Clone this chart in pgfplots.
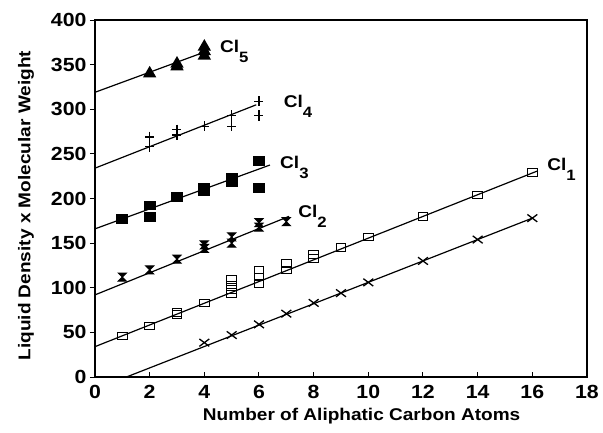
\documentclass[border=0pt]{standalone}
\usepackage{pgfplots}
\pgfplotsset{compat=1.18}
\usepackage{fontspec}
\setmainfont[FakeStretch=1.12]{Liberation Sans}
\pgfdeclareplotmark{hourglass}{%
  \pgfpathmoveto{\pgfqpoint{-\pgfplotmarksize}{\pgfplotmarksize}}%
  \pgfpathlineto{\pgfqpoint{\pgfplotmarksize}{\pgfplotmarksize}}%
  \pgfpathlineto{\pgfqpoint{-\pgfplotmarksize}{-\pgfplotmarksize}}%
  \pgfpathlineto{\pgfqpoint{\pgfplotmarksize}{-\pgfplotmarksize}}%
  \pgfpathclose\pgfusepathqfillstroke}
\newcommand{\cl}[1]{Cl\raisebox{-10pt}{\fontsize{15}{17}\selectfont #1}}
\begin{document}
\begin{tikzpicture}
\useasboundingbox (-95pt,-55pt) rectangle (508pt,377pt);
\begin{axis}[
  scale only axis, width=492pt, height=357pt,
  xmin=0, xmax=18, ymin=0, ymax=400,
  xtick={0,2,...,18}, ytick={0,50,...,400},
  /pgf/number format/assume math mode=true,
  ticklabel style={font=\fontsize{19}{22}\selectfont\bfseries},
  xticklabel style={yshift=-5pt},
  label style={font=\fontsize{17}{20}\selectfont\bfseries},
  xlabel={Number of Aliphatic Carbon Atoms},
  ylabel={Liquid Density x Molecular Weight},
  xlabel style={at={(axis description cs:0.542,-0.109)}, anchor=center},
  ylabel style={at={(axis description cs:-0.14,0.48)}, anchor=center},
  axis line style={line width=1.1pt},
  tick style={black, line width=1pt},
  major tick length=5pt,
  ytick align=outside, xtick align=inside,
  xtick pos=bottom, ytick pos=left,
  clip=false,
  every axis plot/.append style={black, line width=1.2pt},
]
% fitted lines
\addplot[no marks] coordinates {(0,319) (4,364)};
\addplot[no marks] coordinates {(0,234) (5.9,305)};
\addplot[no marks] coordinates {(0,166) (6.4,237.5)};
\addplot[no marks] coordinates {(0,92) (7.1,180)};
\addplot[no marks] coordinates {(0,34) (16.2,231)};
\addplot[no marks] coordinates {(1.15,0) (16,178)};
% Cl5
\addplot[only marks, mark=triangle*, mark size=6.5pt] coordinates {
 (2,340) (3,348) (3,351) (4,360) (4,365) (4,370)};
% Cl4
\addplot[only marks, mark=+, mark size=4.5pt, mark options={line width=1.4pt, yscale=1.15}] coordinates {
 (2,269) (2,258) (3,277) (3,271) (4,281) (5,293) (5,281) (6,309) (6,293)};
% Cl3
\addplot[only marks, mark=square*, mark size=4.2pt, mark options={xscale=1.25}] coordinates {
 (1,177) (2,192) (2,179) (3,202) (4,212) (4,208) (5,223) (5,218) (6,242) (6,212)};
% Cl2
\addplot[only marks, mark=hourglass, mark size=4pt, mark options={line width=1pt, fill=black}] coordinates {
 (1,112) (2,120) (3,132) (4,144) (4,148) (5,150) (5,157) (6,168) (6,173) (7,174)};
% Cl1
\addplot[only marks, mark=square, mark size=3.8pt, mark options={line width=1.1pt, xscale=1.3}] coordinates {
 (1,46) (2,57) (3,70) (3,72) (4,83) (5,93) (5,98) (5,103) (5,109) (6,105) (6,112) (6,120)
 (7,120) (7,127) (8,133) (8,137) (9,145) (10,157) (12,180) (14,204) (16,229)};
% no chlorine
\addplot[only marks, mark=x, mark size=7pt, mark options={line width=1.3pt, yscale=0.75}] coordinates {
 (4,38.5) (5,47) (6,59) (7,71) (8,83) (9,94) (10,106) (12,130) (14,154) (16,178)};
% labels
\begin{scope}[every node/.style={font=\fontsize{17}{20}\selectfont\bfseries, anchor=west, inner sep=0pt}]
\node at (axis cs:4.57,365) {\cl{5}};
\node at (axis cs:6.9,303) {\cl{4}};
\node at (axis cs:6.77,235) {\cl{3}};
\node at (axis cs:7.43,180) {\cl{2}};
\node at (axis cs:16.54,233) {\cl{1}};
\end{scope}
\end{axis}
\end{tikzpicture}
\end{document}
